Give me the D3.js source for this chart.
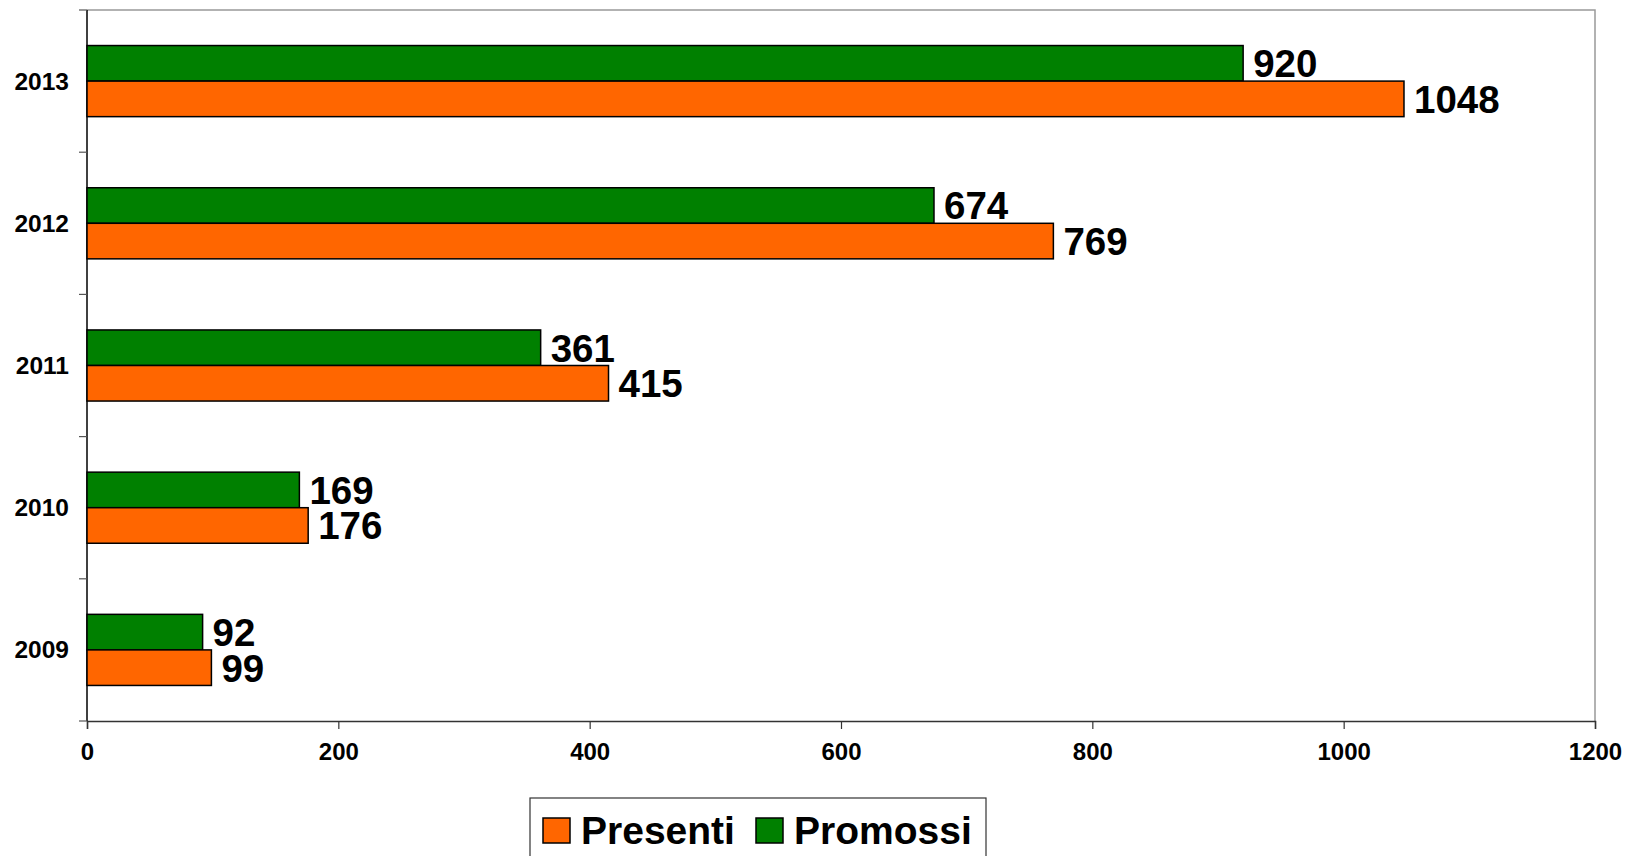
<!DOCTYPE html>
<html>
<head>
<meta charset="utf-8">
<script src="https://cdn.jsdelivr.net/npm/d3@7"></script>
<style>
  body { margin: 0; background: #fff; }
  text { font-family: Arial, "Liberation Sans", sans-serif; font-weight: bold; }
</style>
</head>
<body>
<div id="chart"></div>
<script>
var years = ["2013", "2012", "2011", "2010", "2009"]
var presenti = [1048, 769, 415, 176, 99]
var promossi = [920, 674, 361, 169, 92]
var xTicks = [0, 200, 400, 600, 800, 1000, 1200]
var seriesNames = ["Presenti", "Promossi"]
var seriesColors = ["#FF6600", "#008000"]

var W = 1625, H = 856
var margin = {top: 10, right: 30, bottom: 135, left: 87}
var width = W - margin.left - margin.right
var height = H - margin.top - margin.bottom

var svg = d3.select("#chart")
  .append("svg")
    .attr("width", W)
    .attr("height", H)
  .append("g")
    .attr("transform", "translate(" + margin.left + "," + margin.top + ")")

var x = d3.scaleLinear().domain([0, 1200]).range([0, width])
var y = d3.scaleBand().domain(years).range([0, height]).paddingInner(0.5).paddingOuter(0.25)
var sub = d3.scaleBand().domain(["Promossi", "Presenti"]).range([0, y.bandwidth()])

// plot frame: top and right grey
svg.append("path")
  .attr("d", "M0,0H" + width + "V" + height)
  .attr("fill", "none")
  .attr("stroke", "#999")
  .attr("stroke-width", 1.5)

// x axis
var xAxis = svg.append("g")
  .attr("transform", "translate(0," + height + ")")
  .call(d3.axisBottom(x).tickValues(xTicks).tickFormat(d3.format("d")).tickSize(8).tickPadding(14))
xAxis.select(".domain").attr("stroke", "#333").attr("stroke-width", 1.5)
xAxis.selectAll(".tick line").attr("stroke", "#333").attr("stroke-width", 1.2)
xAxis.selectAll(".tick text")
  .attr("fill", "#000")
  .style("font-size", "24px")
  .style("font-family", "Arial, 'Liberation Sans', sans-serif")
  .style("font-weight", "bold")

// y axis: ticks between categories
var bandStep = height / years.length
var yBoundaries = d3.range(years.length + 1).map(function(i) { return i * bandStep })
svg.append("line")
  .attr("x1", 0).attr("x2", 0).attr("y1", 0).attr("y2", height)
  .attr("stroke", "#000").attr("stroke-width", 1.5)
svg.selectAll(".ytick")
  .data(yBoundaries)
  .enter()
  .append("line")
  .attr("x1", -8).attr("x2", 0)
  .attr("y1", function(d) { return d }).attr("y2", function(d) { return d })
  .attr("stroke", "#555").attr("stroke-width", 1.2)

svg.selectAll(".ylabel")
  .data(years)
  .enter()
  .append("text")
  .attr("x", -18)
  .attr("y", function(d) { return y(d) + y.bandwidth() / 2 })
  .attr("dy", "0.35em")
  .attr("text-anchor", "end")
  .style("font-size", "24.5px")
  .text(function(d) { return d })

var rows = years.map(function(yr, i) {
  return [
    {year: yr, key: "Promossi", value: promossi[i], color: seriesColors[1]},
    {year: yr, key: "Presenti", value: presenti[i], color: seriesColors[0]}
  ]
})
var items = [].concat.apply([], rows)

svg.append("g")
  .selectAll("rect")
  .data(items)
  .enter()
  .append("rect")
  .attr("x", 0)
  .attr("y", function(d) { return y(d.year) + sub(d.key) })
  .attr("width", function(d) { return x(d.value) })
  .attr("height", sub.bandwidth())
  .attr("fill", function(d) { return d.color })
  .attr("stroke", "#000")
  .attr("stroke-width", 1.5)

svg.append("g")
  .selectAll("text")
  .data(items)
  .enter()
  .append("text")
  .attr("x", function(d) { return x(d.value) + 10 })
  .attr("y", function(d) { return y(d.year) + sub(d.key) + sub.bandwidth() / 2 })
  .attr("dy", "0.36em")
  .style("font-size", "38.5px")
  .text(function(d) { return d.value })

// legend
var legend = d3.select("svg").append("g")
  .attr("transform", "translate(530,798)")
legend.append("rect")
  .attr("x", 0).attr("y", 0)
  .attr("width", 456).attr("height", 70)
  .attr("fill", "#fff")
  .attr("stroke", "#333")
  .attr("stroke-width", 1.2)
var legX = [13, 226]
seriesNames.forEach(function(name, i) {
  legend.append("rect")
    .attr("x", legX[i]).attr("y", 20)
    .attr("width", 27).attr("height", 25)
    .attr("fill", seriesColors[i])
    .attr("stroke", "#000")
    .attr("stroke-width", 1.5)
  legend.append("text")
    .attr("x", legX[i] + 38).attr("y", 32)
    .attr("dy", "0.36em")
    .style("font-size", "39px")
    .text(name)
})
</script>
</body>
</html>
